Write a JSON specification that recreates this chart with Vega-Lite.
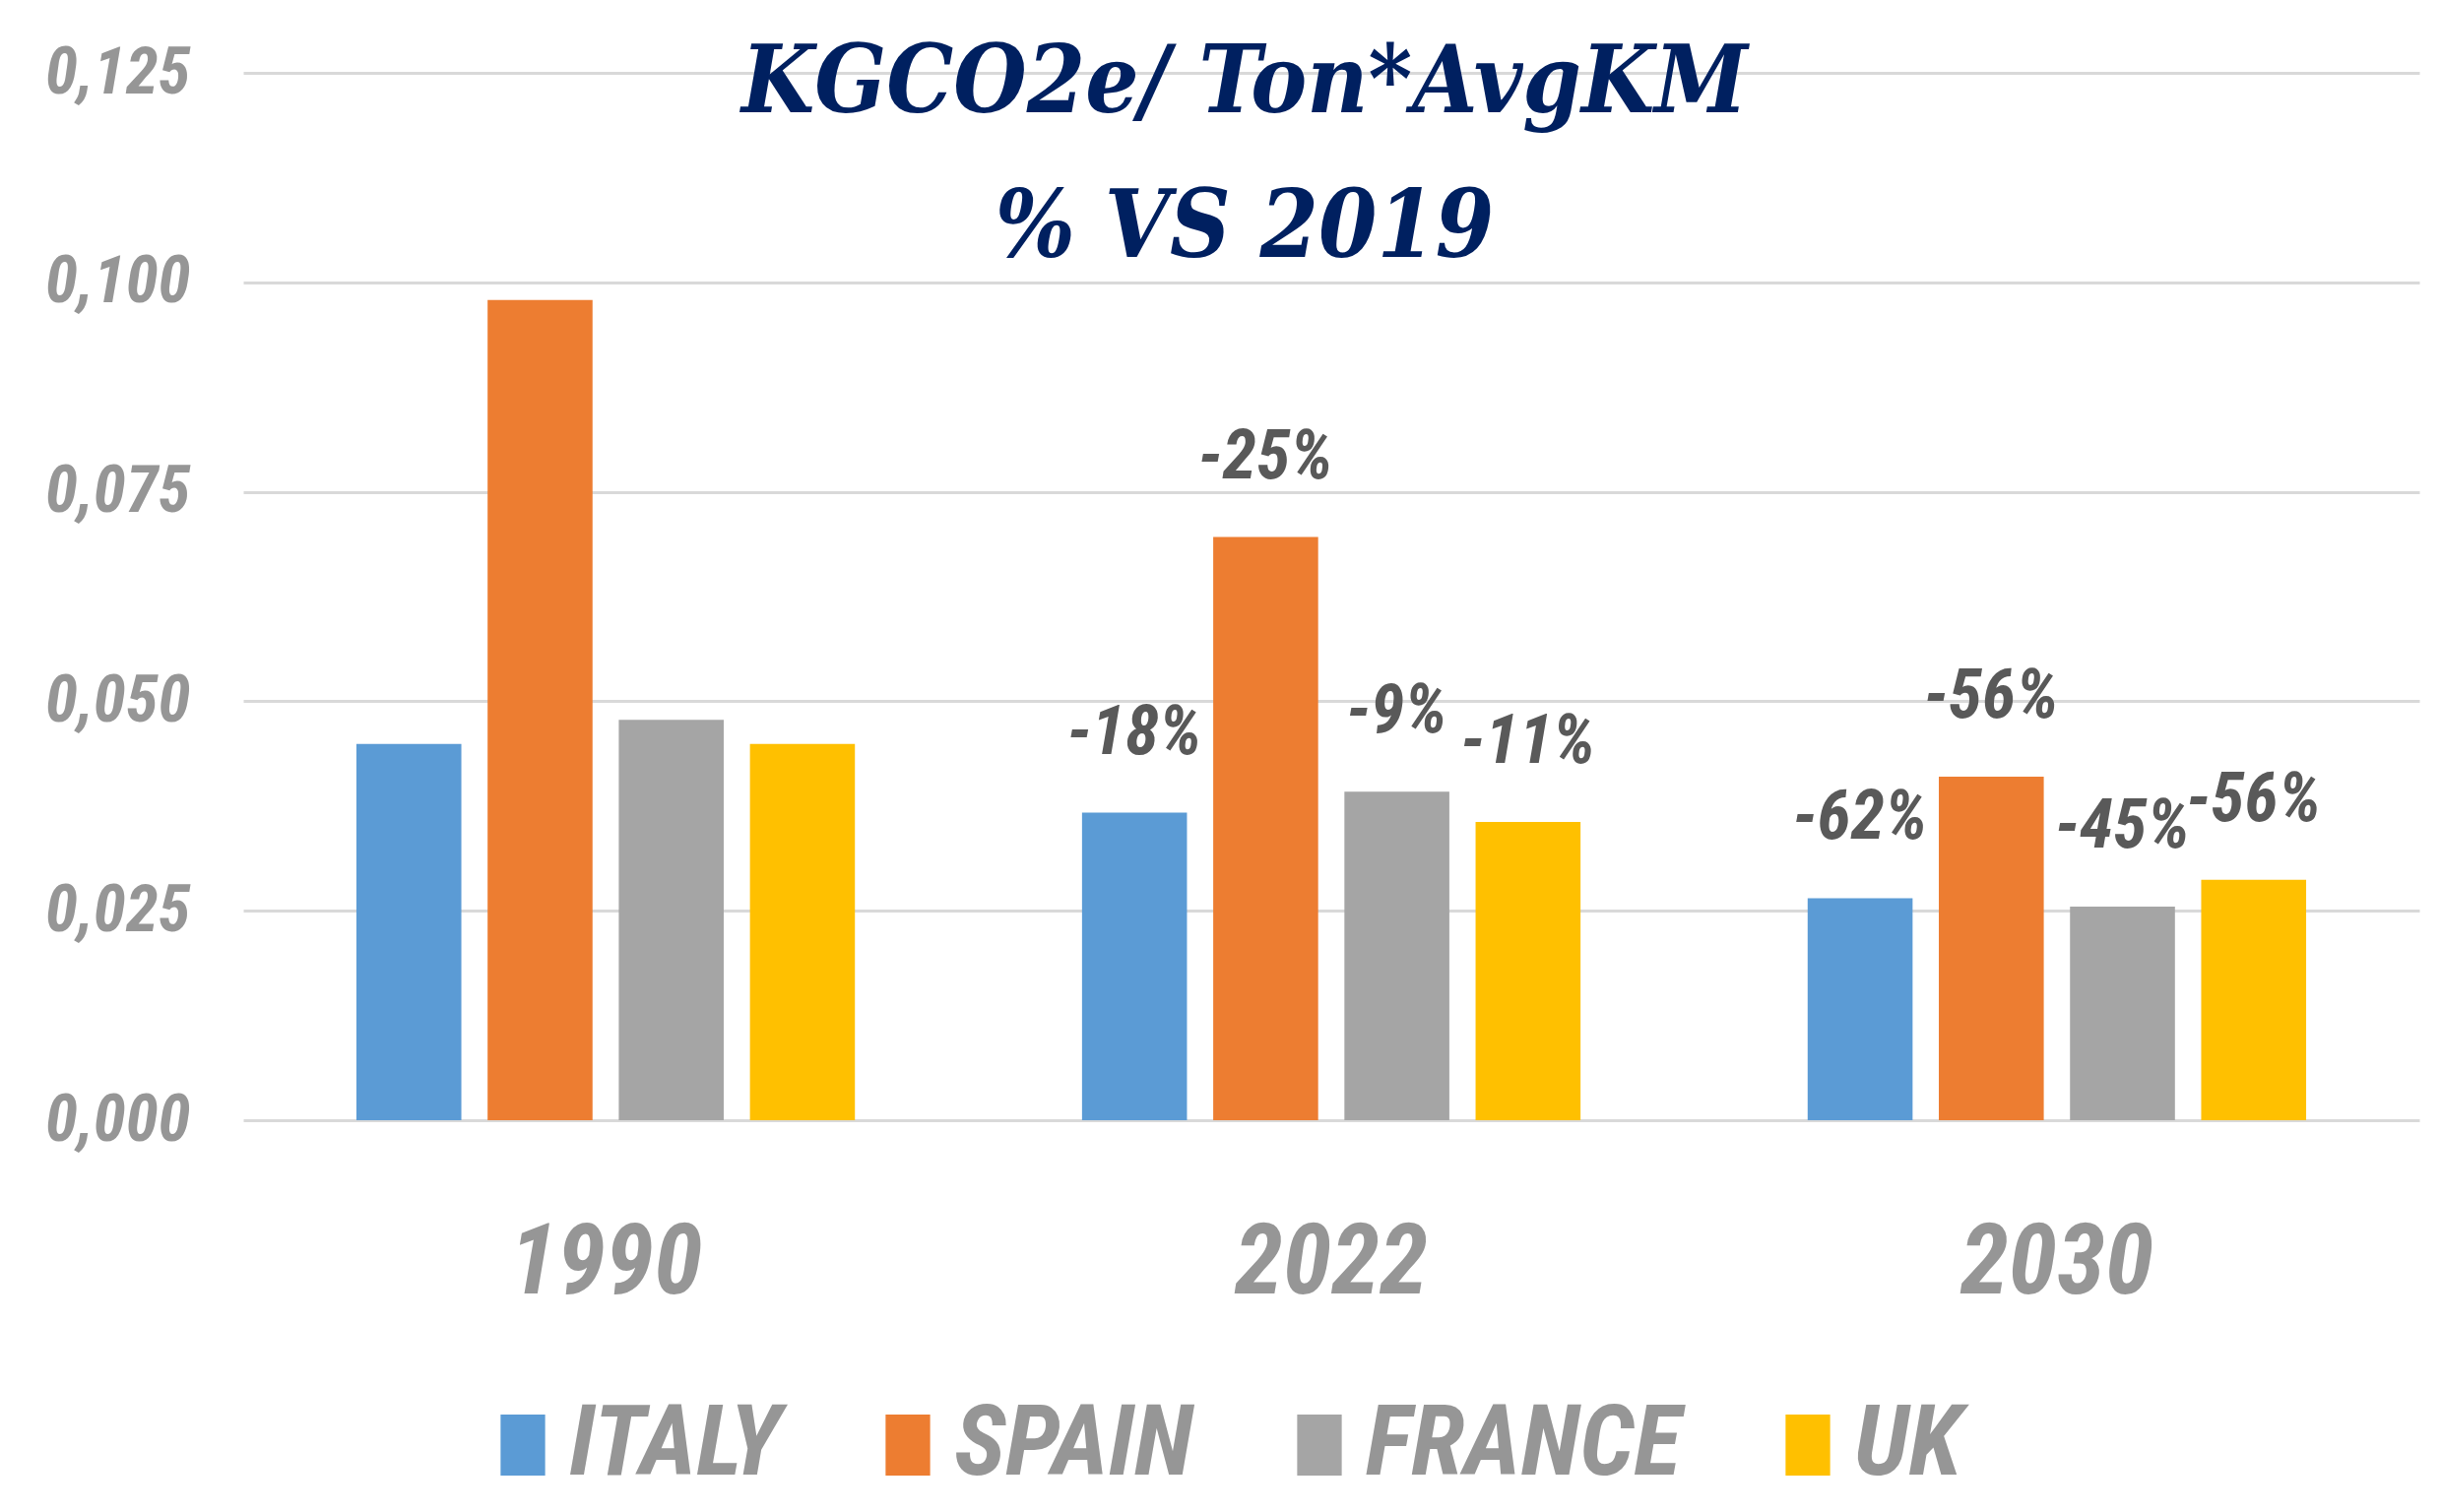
{
  "$schema": "https://vega.github.io/schema/vega-lite/v6.json",
  "width": 2210,
  "height": 1064,
  "autosize": {"type": "none"},
  "padding": {"left": 247, "top": 74, "right": 22, "bottom": 398},
  "background": "white",
  "title": {
    "text": ["KGCO2e/ Ton*AvgKM", "% VS 2019"],
    "font": "DejaVu Serif Condensed",
    "fontSize": 95,
    "fontWeight": "bold",
    "fontStyle": "italic",
    "color": "#002060",
    "lineHeight": 147,
    "anchor": "middle",
    "baseline": "bottom",
    "offset": -336,
    "dx": -88
  },
  "data": {
    "values": [
      {"year": "1990", "country": "ITALY", "value": 0.0449, "label": ""},
      {"year": "1990", "country": "SPAIN", "value": 0.0979, "label": ""},
      {"year": "1990", "country": "FRANCE", "value": 0.0478, "label": ""},
      {"year": "1990", "country": "UK", "value": 0.0449, "label": ""},
      {"year": "2022", "country": "ITALY", "value": 0.0367, "label": "-18%"},
      {"year": "2022", "country": "SPAIN", "value": 0.0696, "label": "-25%"},
      {"year": "2022", "country": "FRANCE", "value": 0.0392, "label": "-9%"},
      {"year": "2022", "country": "UK", "value": 0.0356, "label": "-11%"},
      {"year": "2030", "country": "ITALY", "value": 0.0265, "label": "-62%"},
      {"year": "2030", "country": "SPAIN", "value": 0.0410, "label": "-56%"},
      {"year": "2030", "country": "FRANCE", "value": 0.0255, "label": "-45%"},
      {"year": "2030", "country": "UK", "value": 0.0287, "label": "-56%"}
    ]
  },
  "encoding": {
    "x": {
      "field": "year",
      "type": "nominal",
      "sort": ["1990", "2022", "2030"],
      "scale": {"paddingInner": 0.313, "paddingOuter": 0.156},
      "axis": {
        "title": null,
        "labelAngle": 0,
        "domain": false,
        "ticks": false,
        "labelPadding": 96,
        "labelLimit": 600,
        "labelFont": "Roboto Condensed, Roboto",
        "labelFontSize": 100,
        "labelFontWeight": "bold",
        "labelFontStyle": "italic",
        "labelColor": "#969696"
      }
    },
    "xOffset": {
      "field": "country",
      "type": "nominal",
      "sort": ["ITALY", "SPAIN", "FRANCE", "UK"],
      "scale": {"paddingInner": 0.2, "paddingOuter": 0}
    },
    "y": {
      "field": "value",
      "type": "quantitative",
      "scale": {"domain": [0, 0.125], "nice": false},
      "axis": {
        "title": null,
        "values": [0, 0.025, 0.05, 0.075, 0.1, 0.125],
        "labelExpr": "replace(format(datum.value, '.3f'), '.', ',')",
        "domain": false,
        "ticks": false,
        "labelPadding": 54,
        "labelLimit": 400,
        "labelFont": "Roboto Condensed, Roboto",
        "labelFontSize": 67,
        "labelFontWeight": "bold",
        "labelFontStyle": "italic",
        "labelColor": "#969696",
        "labelBaseline": "middle",
        "grid": true,
        "gridColor": "#D9D9D9",
        "gridWidth": 3
      }
    }
  },
  "layer": [
    {
      "mark": {"type": "bar"},
      "encoding": {
        "color": {
          "field": "country",
          "type": "nominal",
          "sort": ["ITALY", "SPAIN", "FRANCE", "UK"],
          "scale": {
            "domain": ["ITALY", "SPAIN", "FRANCE", "UK"],
            "range": ["#5B9BD5", "#ED7D31", "#A5A5A5", "#FFC000"]
          },
          "legend": {
            "orient": "none",
            "legendX": 234,
            "legendY": 1344,
            "direction": "horizontal",
            "title": null,
            "symbolType": "M-0.73,-1H0.73V1H-0.73Z",
            "symbolSize": 3844,
            "symbolStrokeWidth": 0,
            "symbolOpacity": 1,
            "labelFont": "Roboto Condensed, Roboto",
            "labelFontSize": 100,
            "labelFontWeight": "bold",
            "labelFontStyle": "italic",
            "labelColor": "#969696",
            "labelOffset": -3,
            "labelLimit": 600,
            "columnPadding": 78
          }
        }
      }
    },
    {
      "mark": {
        "type": "text",
        "baseline": "alphabetic",
        "align": "center",
        "dy": -60,
        "font": "Roboto Condensed, Roboto",
        "fontSize": 70,
        "fontWeight": "bold",
        "fontStyle": "italic",
        "color": "#595959"
      },
      "encoding": {
        "text": {"field": "label"}
      }
    }
  ],
  "config": {"view": {"stroke": null}}
}
